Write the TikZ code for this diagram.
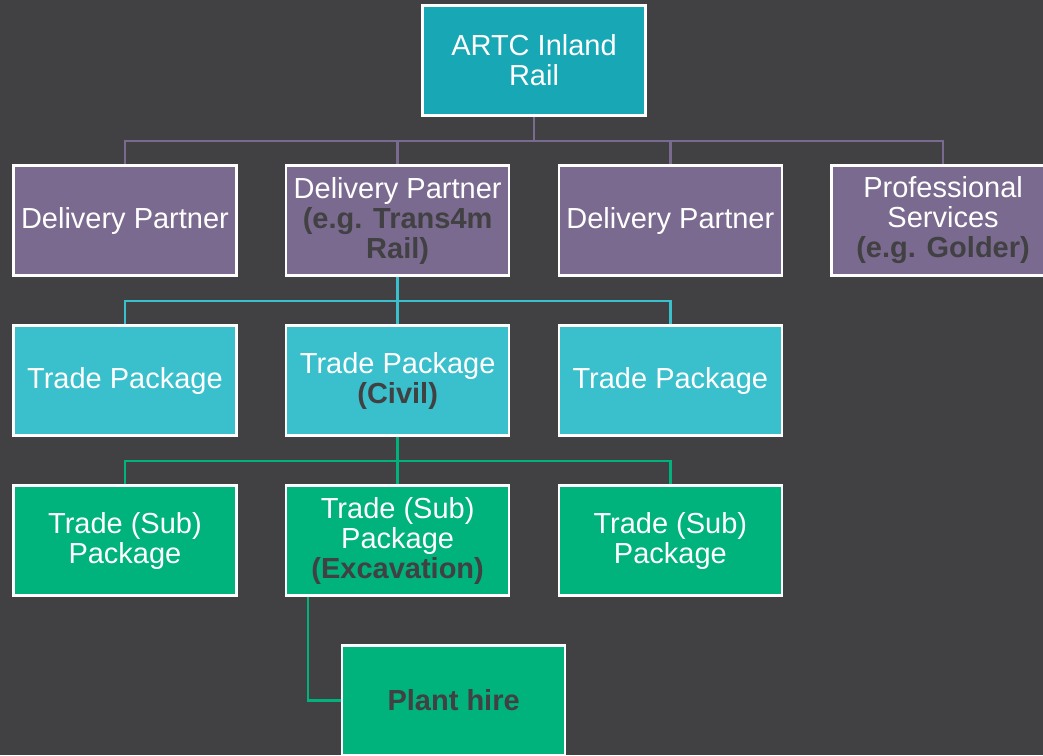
\documentclass[tikz,border=0pt]{standalone}
\usepackage{fontspec}
\setmainfont{Liberation Sans}
\usepackage{xcolor}

\definecolor{bgdark}{HTML}{414042}
\definecolor{artcteal}{HTML}{17A7B5}
\definecolor{partnerpurple}{HTML}{7B6A8F}
\definecolor{packagecyan}{HTML}{3AC0CC}
\definecolor{subgreen}{HTML}{00B27B}

\tikzset{orgbox/.style={rectangle,draw=white,line width=2.5pt,minimum width=223pt,
    minimum height=110pt,inner sep=2pt,align=center,text=white,
    font=\fontsize{29}{30}\selectfont}}
\newcommand{\egnote}[1]{{\bfseries\color{bgdark}#1}}

\begin{document}
\begin{tikzpicture}
  [level distance=160pt,
    edge from parent path={(\tikzparentnode.south) -- ++(0,-24pt) -| (\tikzchildnode.north)},
    level 1/.style={sibling distance=272.7pt,edge from parent/.style={draw=partnerpurple,line width=2.5pt}},
    level 2/.style={sibling distance=272.7pt,edge from parent/.style={draw=packagecyan,line width=2.5pt}},
    level 3/.style={sibling distance=272.7pt,edge from parent/.style={draw=subgreen,line width=2.5pt}},
    level 4/.style={edge from parent/.style={draw=subgreen,line width=2.5pt}}]
  \fill[bgdark] (0,0) rectangle (1043pt,-755pt);
  \useasboundingbox (0,0) rectangle (1043pt,-755pt);
  \node[orgbox,fill=artcteal] (artc) at (534pt,-60.5pt) {ARTC Inland\\Rail}
    child {node[orgbox,fill=partnerpurple] (dp1) {Delivery Partner}}
    child {node[orgbox,fill=partnerpurple] (dp2) {Delivery Partner\\\egnote{(e.g. Trans4m}\\\egnote{Rail)}}
      child {node[orgbox,fill=packagecyan] (tp1) {Trade Package}}
      child {node[orgbox,fill=packagecyan] (tp2) {Trade Package\\\egnote{(Civil)}}
        child {node[orgbox,fill=subgreen] (sub1) {Trade (Sub)\\Package}}
        child {node[orgbox,fill=subgreen] (sub2) {Trade (Sub)\\Package\\\egnote{(Excavation)}}
          child[edge from parent path={([xshift=23pt]\tikzparentnode.south west) |- (\tikzchildnode.west)}]
            {node[orgbox,fill=subgreen,xshift=56pt] (hire) {\egnote{Plant hire}}}
        }
        child {node[orgbox,fill=subgreen] (sub3) {Trade (Sub)\\Package}}
      }
      child {node[orgbox,fill=packagecyan] (tp3) {Trade Package}}
    }
    child {node[orgbox,fill=partnerpurple] (dp3) {Delivery Partner}}
    child {node[orgbox,fill=partnerpurple] (prof) {Professional\\Services\\\egnote{(e.g. Golder)}}};
\end{tikzpicture}
\end{document}
